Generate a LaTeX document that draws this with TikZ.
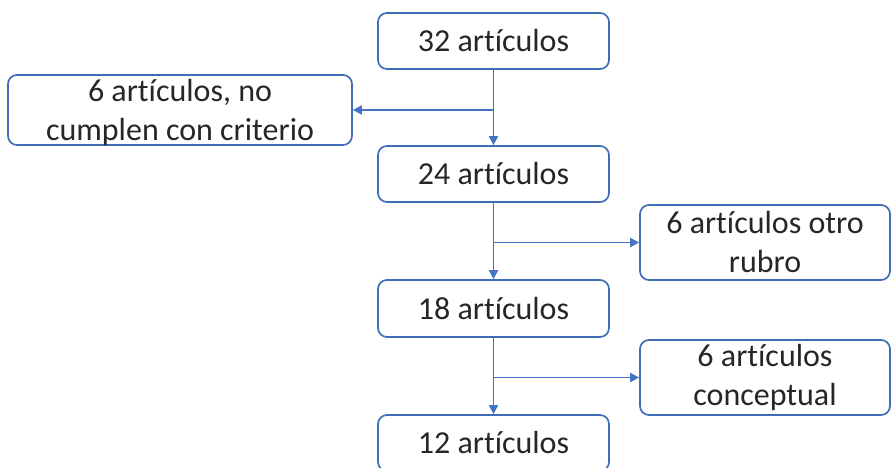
\documentclass[tikz,border=0pt]{standalone}
\usepackage{fontspec}
\setmainfont{Carlito}[Ligatures=NoCommon]
\usetikzlibrary{arrows.meta}
\definecolor{boxblue}{HTML}{3E6DB5}
\definecolor{arrblue}{HTML}{4472C4}
\tikzset{
  box/.style={draw=boxblue, line width=1.7pt, rounded corners=9pt, inner sep=0pt,
    align=center, font=\fontsize{32}{39}\selectfont, text=black!85},
  conn/.style={draw=arrblue, line width=1.9pt},
  arr/.style={conn, -{Triangle[length=9pt,width=9pt]}}
}
\begin{document}
\begin{tikzpicture}[x=1pt,y=-1pt]
\useasboundingbox (0,0) rectangle (892,468);
\clip (0,0) rectangle (892,468);
\node[box, minimum width=231pt, minimum height=56pt] (b1) at (493.5,41) {32 artículos};
\node[box, minimum width=231pt, minimum height=56pt] (b2) at (493.5,174) {24 artículos};
\node[box, minimum width=231pt, minimum height=57pt] (b3) at (493.5,308.5) {18 artículos};
\node[box, minimum width=231pt, minimum height=56pt] (b4) at (493.5,443) {12 artículos};
\node[box, minimum width=344pt, minimum height=70pt, text depth=0pt] (l1) at (180,110) {6 artículos, no\\cumplen con criterio};
\node[box, minimum width=250pt, minimum height=75pt] (r1) at (765,242.5) {6 artículos otro\\rubro};
\node[box, minimum width=250pt, minimum height=75pt] (r2) at (765,377.5) {6 artículos\\conceptual};
\draw[arr] (b1.south) -- (b2.north);
\draw[arr] (b2.south) -- (b3.north);
\draw[arr] (b3.south) -- (b4.north);
\coordinate (j1) at (b1.south |- l1.east);
\coordinate (j2) at (b2.south |- r1.west);
\coordinate (j3) at (b3.south |- r2.west);
\draw[arr] (j1) -- (l1.east);
\draw[arr] (j2) -- (r1.west);
\draw[arr] (j3) -- (r2.west);
\end{tikzpicture}
\end{document}
